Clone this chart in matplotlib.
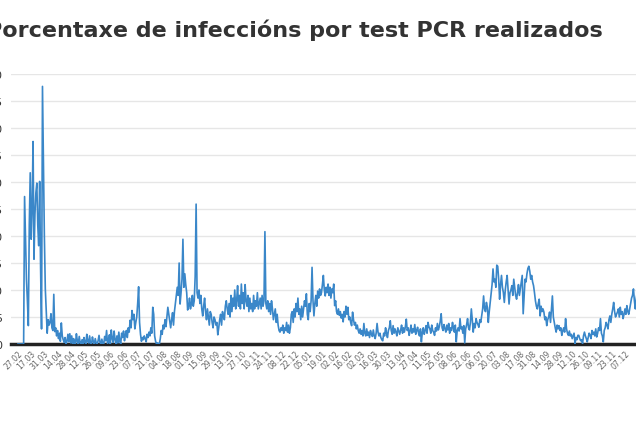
import matplotlib
matplotlib.use('Agg')
import matplotlib.pyplot as plt
import numpy as np
import pandas as pd

# Daily share of positive PCR tests (%), one row per fortnight
pct_rows = [
    [0, 0, 0, 0, 0, 0, 0, 27.3, 20, 12, 8, 3.4, 22, 31.7],
    [19.4, 25, 37.5, 15.7, 24, 28, 29.8, 22, 18.2, 30.1, 14, 2.8, 47.7, 33],
    [20, 10.2, 6, 2, 4.5, 3.5, 4, 5.6, 3, 2.5, 9.2, 2.3, 3, 1.5],
    [2.5, 1.0, 2.0, 0.5, 3.9, 1.5, 0.8, 0.3, 1.2, 0.0, 0.5, 1.8, 0.4, 1.9],
    [0.2, 1.5, 0.0, 1.0, 0.3, 0.0, 1.9, 0.5, 0.0, 1.4, 0.2, 0.0, 0.8, 0.0],
    [1.2, 0.3, 0.0, 1.8, 0.5, 0.2, 1.5, 0.0, 0.0, 1.3, 0.4, 0.0, 1.0, 0.2],
    [0.0, 0.6, 1.6, 0.3, 0.0, 0.9, 0.0, 0.0, 1.4, 0.6, 2.5, 0.1, 0.5, 1.7],
    [0.0, 2.6, 1.0, 0.3, 2.4, 0.8, 0.0, 1.5, 0.2, 2.2, 0.5, 0.0, 2.0, 1.2],
    [2.4, 0.6, 1.8, 2.5, 1.2, 3.0, 2.2, 4.4, 3.0, 6.2, 4.5, 5.5, 2.8, 4.0],
    [5.0, 7.5, 10.6, 4.0, 1.8, 0.5, 1.2, 0.8, 1.5, 1.0, 0.4, 1.8, 1.2, 2.2],
    [1.5, 3.0, 2.0, 6.8, 5.5, 1.5, 0.5, 0.0, 0.2, 0.0, 0.0, 1.0, 2.5, 1.8],
    [3.5, 2.8, 4.5, 3.2, 5.0, 6.8, 5.5, 4.2, 3.0, 4.5, 5.8, 3.5, 6.0, 7.5],
    [8.9, 10.5, 9.0, 15.0, 7.4, 9.5, 12.0, 19.4, 10.5, 13.0, 11.0, 9.5, 6.3, 7.0],
    [8.5, 6.5, 7.5, 9.0, 7.0, 8.0, 12.5, 25.9, 9.5, 8.5, 10.0, 7.5, 9.0, 6.5],
    [5.2, 7.0, 8.5, 6.0, 4.5, 6.5, 5.0, 3.5, 6.0, 5.5, 4.0, 3.0, 5.0, 4.5],
    [3.5, 4.0, 1.7, 3.0, 4.5, 5.5, 3.5, 6.0, 5.0, 4.5, 7.0, 8.0, 6.5, 5.5],
    [7.5, 5.0, 9.0, 6.0, 8.5, 7.0, 10.0, 6.5, 8.0, 10.8, 7.0, 9.0, 6.5, 11.1],
    [7.5, 9.5, 6.5, 11.0, 8.0, 7.0, 9.0, 6.0, 8.5, 6.5, 7.5, 6.0, 9.0, 6.5],
    [8.0, 7.0, 9.5, 6.5, 7.5, 8.5, 6.5, 9.0, 7.0, 8.0, 20.8, 7.5, 6.5, 8.0],
    [6.0, 7.5, 5.5, 8.0, 6.5, 4.5, 5.5, 6.5, 4.0, 5.5, 3.5, 2.5, 2.2, 3.0],
    [2.5, 3.5, 2.0, 3.0, 2.5, 4.0, 2.2, 3.5, 2.0, 3.0, 5.5, 6.0, 4.0, 6.5],
    [5.0, 7.5, 6.0, 8.5, 5.5, 6.5, 4.5, 7.0, 5.0, 6.5, 8.0, 7.0, 9.3, 5.5],
    [4.5, 7.5, 6.0, 8.0, 14.2, 8.0, 5.2, 7.5, 9.0, 7.0, 9.8, 8.5, 10.2, 9.0],
    [9.5, 11.0, 12.7, 10.0, 8.9, 10.5, 9.5, 11.1, 9.0, 10.5, 8.5, 10.2, 9.5, 11.1],
    [7.1, 8.0, 6.0, 5.5, 6.5, 5.3, 6.0, 4.8, 5.5, 4.1, 6.0, 5.0, 7.0, 5.5],
    [6.8, 4.5, 5.0, 4.0, 3.4, 5.9, 4.5, 3.5, 4.0, 2.8, 3.5, 2.5, 2.0, 2.8],
    [1.8, 2.5, 1.5, 3.8, 2.0, 1.5, 2.8, 1.6, 2.2, 1.2, 2.5, 1.8, 1.4, 2.6],
    [1.5, 1.0, 2.0, 3.8, 2.2, 1.5, 2.0, 1.2, 0.8, 0.6, 2.0, 1.5, 3.0, 2.0],
    [1.2, 2.5, 3.0, 4.3, 2.5, 1.8, 3.4, 2.0, 2.8, 2.2, 1.5, 3.0, 2.4, 1.8],
    [2.6, 3.5, 2.0, 3.0, 2.2, 3.2, 4.6, 2.5, 3.0, 1.6, 2.4, 3.5, 2.0, 2.8],
    [2.2, 3.6, 1.8, 2.5, 3.1, 2.0, 1.5, 2.8, 0.4, 2.2, 3.0, 1.8, 2.5, 3.4],
    [2.0, 4.0, 3.2, 2.8, 2.0, 3.5, 2.5, 2.2, 1.6, 3.0, 2.4, 3.8, 2.6, 3.2],
    [4.2, 5.6, 3.0, 2.5, 3.6, 2.8, 2.2, 3.5, 2.6, 3.8, 2.0, 3.0, 2.5, 4.0],
    [3.0, 2.2, 3.5, 0.4, 2.5, 3.0, 2.4, 4.7, 2.8, 3.2, 2.0, 3.4, 0.2, 2.8],
    [3.6, 4.7, 3.0, 2.6, 4.0, 6.5, 4.5, 2.2, 3.8, 3.0, 4.7, 4.0, 3.6, 3.1],
    [4.5, 4.0, 5.2, 6.5, 8.9, 6.5, 6.0, 7.7, 6.8, 4.0, 6.0, 7.7, 9.5, 11.0],
    [13.9, 11.5, 12.0, 10.5, 14.6, 14.4, 12.0, 8.3, 11.0, 12.7, 10.5, 9.5, 7.7, 10.0],
    [11.5, 12.7, 10.0, 7.4, 9.5, 10.0, 10.8, 9.0, 12.0, 10.5, 9.0, 8.3, 9.5, 11.0],
    [9.0, 10.2, 11.5, 12.7, 5.6, 9.0, 12.0, 11.5, 13.0, 14.0, 14.4, 13.5, 12.0, 12.7],
    [11.5, 10.8, 9.5, 8.0, 7.0, 6.5, 7.5, 8.3, 5.2, 7.0, 6.0, 6.5, 5.9, 4.5],
    [5.0, 3.4, 4.5, 5.0, 5.9, 4.0, 6.5, 8.9, 5.0, 4.0, 3.0, 2.2, 3.5, 2.8],
    [3.4, 2.5, 3.0, 1.6, 2.5, 3.0, 2.2, 4.7, 2.8, 2.0, 1.6, 2.4, 1.5, 1.8],
    [1.0, 1.5, 2.0, 0.1, 1.2, 0.8, 1.6, 1.6, 1.0, 0.6, 0.8, 0.1, 1.5, 2.2],
    [1.5, 1.0, 0.4, 1.2, 2.0, 1.6, 1.0, 2.5, 1.8, 2.2, 1.5, 2.8, 1.3, 2.0],
    [3.0, 2.5, 4.7, 2.0, 1.5, 0.4, 2.5, 3.0, 4.0, 3.5, 2.8, 4.5, 5.2, 4.0],
    [5.5, 6.5, 7.7, 6.0, 5.0, 5.5, 5.9, 6.5, 5.0, 6.8, 5.5, 6.0, 4.7, 5.5],
    [6.5, 5.5, 7.1, 6.0, 5.5, 6.5, 7.5, 8.5, 9.0, 10.2, 8.0, 6.5, 8.5, 9.5],
]
pct = [v for row in pct_rows for v in row]

# First report on 27.02.2020, then daily reports from 04.03.2020
report_dates = ['27.02'] + list(pd.date_range('2020-03-04', periods=len(pct) - 1).strftime('%d.%m'))

y_ticks = [0, 5, 10, 15, 20, 25, 30, 35, 40, 45, 50]
title = 'Porcentaxe de infeccións por test PCR realizados'

W, H = 636, 427
fig = plt.figure(figsize=(W / 100, H / 100), dpi=100)

# plot area: x from 11px to the right edge, y from 75px to 345px
ax = fig.add_axes([11 / W, (H - 345) / H, (W - 11) / W, 270 / H])

x = np.arange(len(pct))
ax.plot(x, pct, color='#3a87c9', lw=1.2, zorder=3, solid_joinstyle='round')

ax.set_ylim(0, 50)
ax.set_xlim(-7.4, (W - 18) / 0.9425)
ax.set_yticks(y_ticks)
ax.set_yticklabels([str(t) for t in y_ticks], fontsize=8, color='#333333')
ax.set_xticks(x[::14])
ax.set_xticklabels(report_dates[::14], rotation=45, ha='right', rotation_mode='anchor',
                   fontsize=5.6, color='#666666')
ax.tick_params(axis='both', length=0)
ax.tick_params(axis='y', pad=6)
ax.tick_params(axis='x', pad=3)

ax.grid(axis='y', color='#e6e6e6', lw=1)
ax.set_axisbelow(True)
for s in ['top', 'right', 'left']:
    ax.spines[s].set_visible(False)
ax.spines['bottom'].set_color('#222222')
ax.spines['bottom'].set_linewidth(2.5)
ax.spines['bottom'].set_zorder(2)

fig.text(-14 / W, 1 - 30 / H, title, fontsize=16, fontweight='bold', color='#333333',
         ha='left', va='center')

fig.savefig('out.png', dpi=100)
